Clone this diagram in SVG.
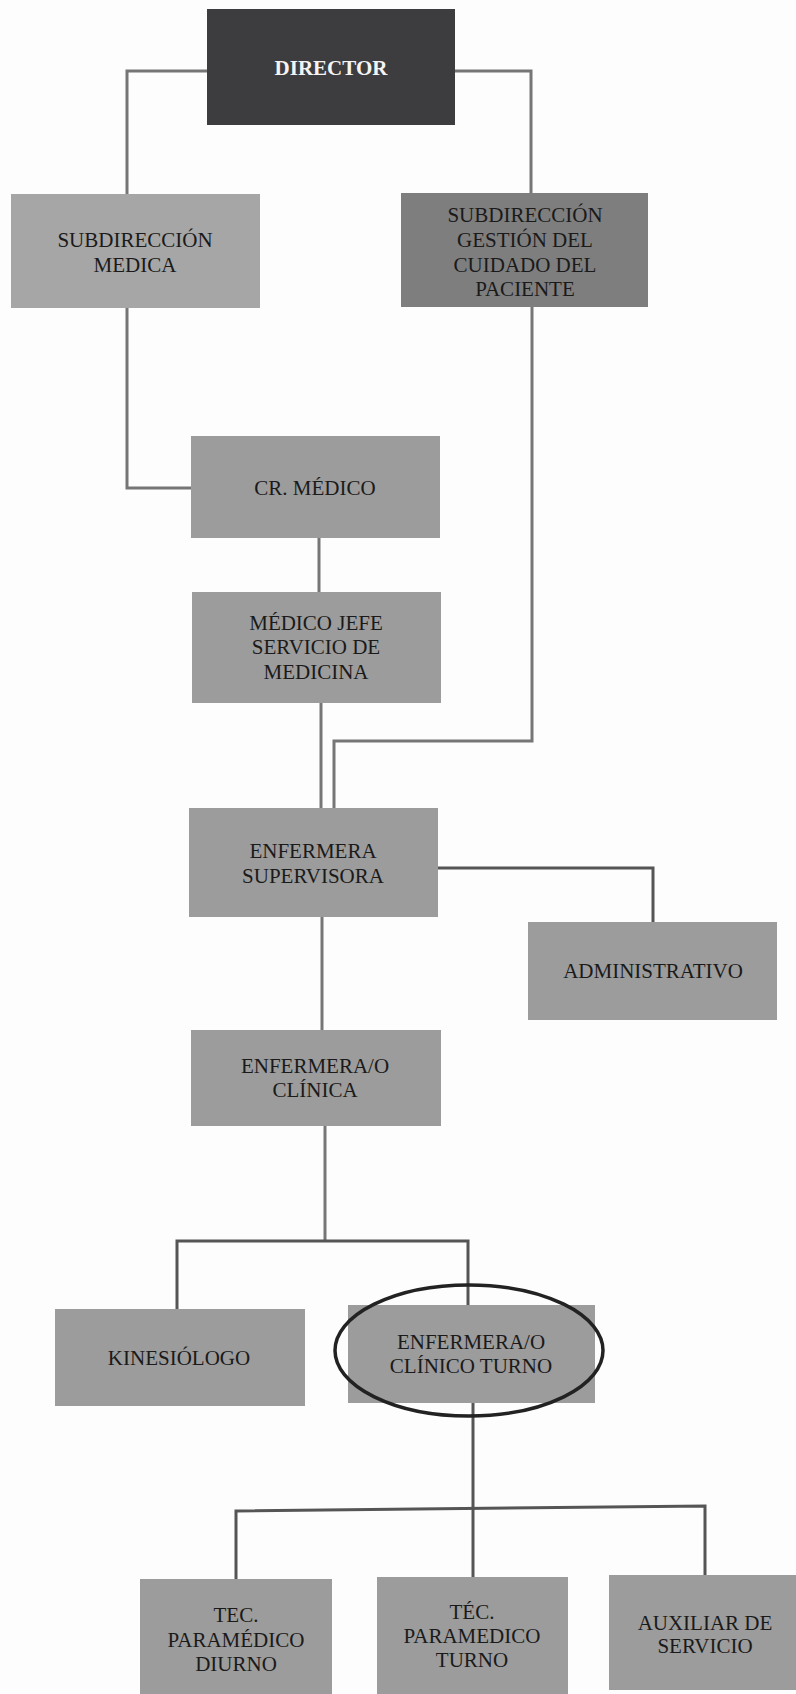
<svg xmlns="http://www.w3.org/2000/svg" width="796" height="1694" viewBox="0 0 796 1694">
<style>
.bg{fill:#fdfdfd}
.box{fill:#9c9c9c}
.light{fill:#a6a6a6}
.dark{fill:#7e7e7e}
.top{fill:#3d3d3f}
.t{font-family:"Liberation Serif","Times New Roman",serif;font-size:21px;fill:#1a1a1a;text-anchor:middle}
.tw{font-family:"Liberation Serif","Times New Roman",serif;font-size:21px;font-weight:bold;fill:#f4f4f4;text-anchor:middle}
.c{fill:none;stroke:#767676;stroke-width:3}
.cd{fill:none;stroke:#555;stroke-width:3}
.ring{fill:none;stroke:#222;stroke-width:3.5}
</style>
<rect class="bg" x="0" y="0" width="796" height="1694"/>
<g id="connectors">
<path class="c" d="M207,71 H127 V194"/>
<path class="c" d="M455,71 H531 V193"/>
<path class="c" d="M127,308 V488 H191"/>
<path class="c" d="M532,307 V741 H334 V808"/>
<path class="c" d="M319,538 V592"/>
<path class="c" d="M321,703 V808"/>
<path class="cd" d="M438,868 H653 V922"/>
<path class="c" d="M322,917 V1030"/>
<path class="c" d="M325,1126 V1241"/>
<path class="cd" d="M177,1309 V1241 H468 V1305"/>
<path class="cd" d="M473,1403 V1577"/>
<path class="cd" d="M236,1579 V1511 L705,1506 V1575"/>
</g>
<g id="director">
<rect class="top" x="207" y="9" width="248" height="116"/>
<text class="tw" x="331" y="75">DIRECTOR</text>
</g>
<g id="subdireccion-medica">
<rect class="light" x="11" y="194" width="249" height="114"/>
<text class="t" x="135" y="247">SUBDIRECCIÓN</text>
<text class="t" x="135" y="272">MEDICA</text>
</g>
<g id="subdireccion-gestion">
<rect class="dark" x="401" y="193" width="247" height="114"/>
<text class="t" x="525" y="222">SUBDIRECCIÓN</text>
<text class="t" x="525" y="247">GESTIÓN DEL</text>
<text class="t" x="525" y="272">CUIDADO DEL</text>
<text class="t" x="525" y="296">PACIENTE</text>
</g>
<g id="cr-medico">
<rect class="box" x="191" y="436" width="249" height="102"/>
<text class="t" x="315" y="495">CR. MÉDICO</text>
</g>
<g id="medico-jefe">
<rect class="box" x="192" y="592" width="249" height="111"/>
<text class="t" x="316" y="630">MÉDICO JEFE</text>
<text class="t" x="316" y="654">SERVICIO DE</text>
<text class="t" x="316" y="679">MEDICINA</text>
</g>
<g id="enfermera-supervisora">
<rect class="box" x="189" y="808" width="249" height="109"/>
<text class="t" x="313" y="858">ENFERMERA</text>
<text class="t" x="313" y="883">SUPERVISORA</text>
</g>
<g id="administrativo">
<rect class="box" x="528" y="922" width="249" height="98"/>
<text class="t" x="653" y="978">ADMINISTRATIVO</text>
</g>
<g id="enfermera-clinica">
<rect class="box" x="191" y="1030" width="250" height="96"/>
<text class="t" x="315" y="1073">ENFERMERA/O</text>
<text class="t" x="315" y="1097">CLÍNICA</text>
</g>
<g id="kinesiologo">
<rect class="box" x="55" y="1309" width="250" height="97"/>
<text class="t" x="179" y="1365">KINESIÓLOGO</text>
</g>
<g id="enfermera-clinico-turno">
<rect class="box" x="348" y="1305" width="247" height="98"/>
<text class="t" x="471" y="1349">ENFERMERA/O</text>
<text class="t" x="471" y="1373">CLÍNICO TURNO</text>
<ellipse class="ring" cx="469" cy="1350.5" rx="134" ry="65.5"/>
</g>
<g id="tec-paramedico-diurno">
<rect class="box" x="140" y="1579" width="192" height="115"/>
<text class="t" x="236" y="1622">TEC.</text>
<text class="t" x="236" y="1647">PARAMÉDICO</text>
<text class="t" x="236" y="1671">DIURNO</text>
</g>
<g id="tec-paramedico-turno">
<rect class="box" x="377" y="1577" width="191" height="117"/>
<text class="t" x="472" y="1619">TÉC.</text>
<text class="t" x="472" y="1643">PARAMEDICO</text>
<text class="t" x="472" y="1667">TURNO</text>
</g>
<g id="auxiliar-de-servicio">
<rect class="box" x="609" y="1575" width="187" height="115"/>
<text class="t" x="705" y="1630">AUXILIAR DE</text>
<text class="t" x="705" y="1653">SERVICIO</text>
</g>
</svg>
